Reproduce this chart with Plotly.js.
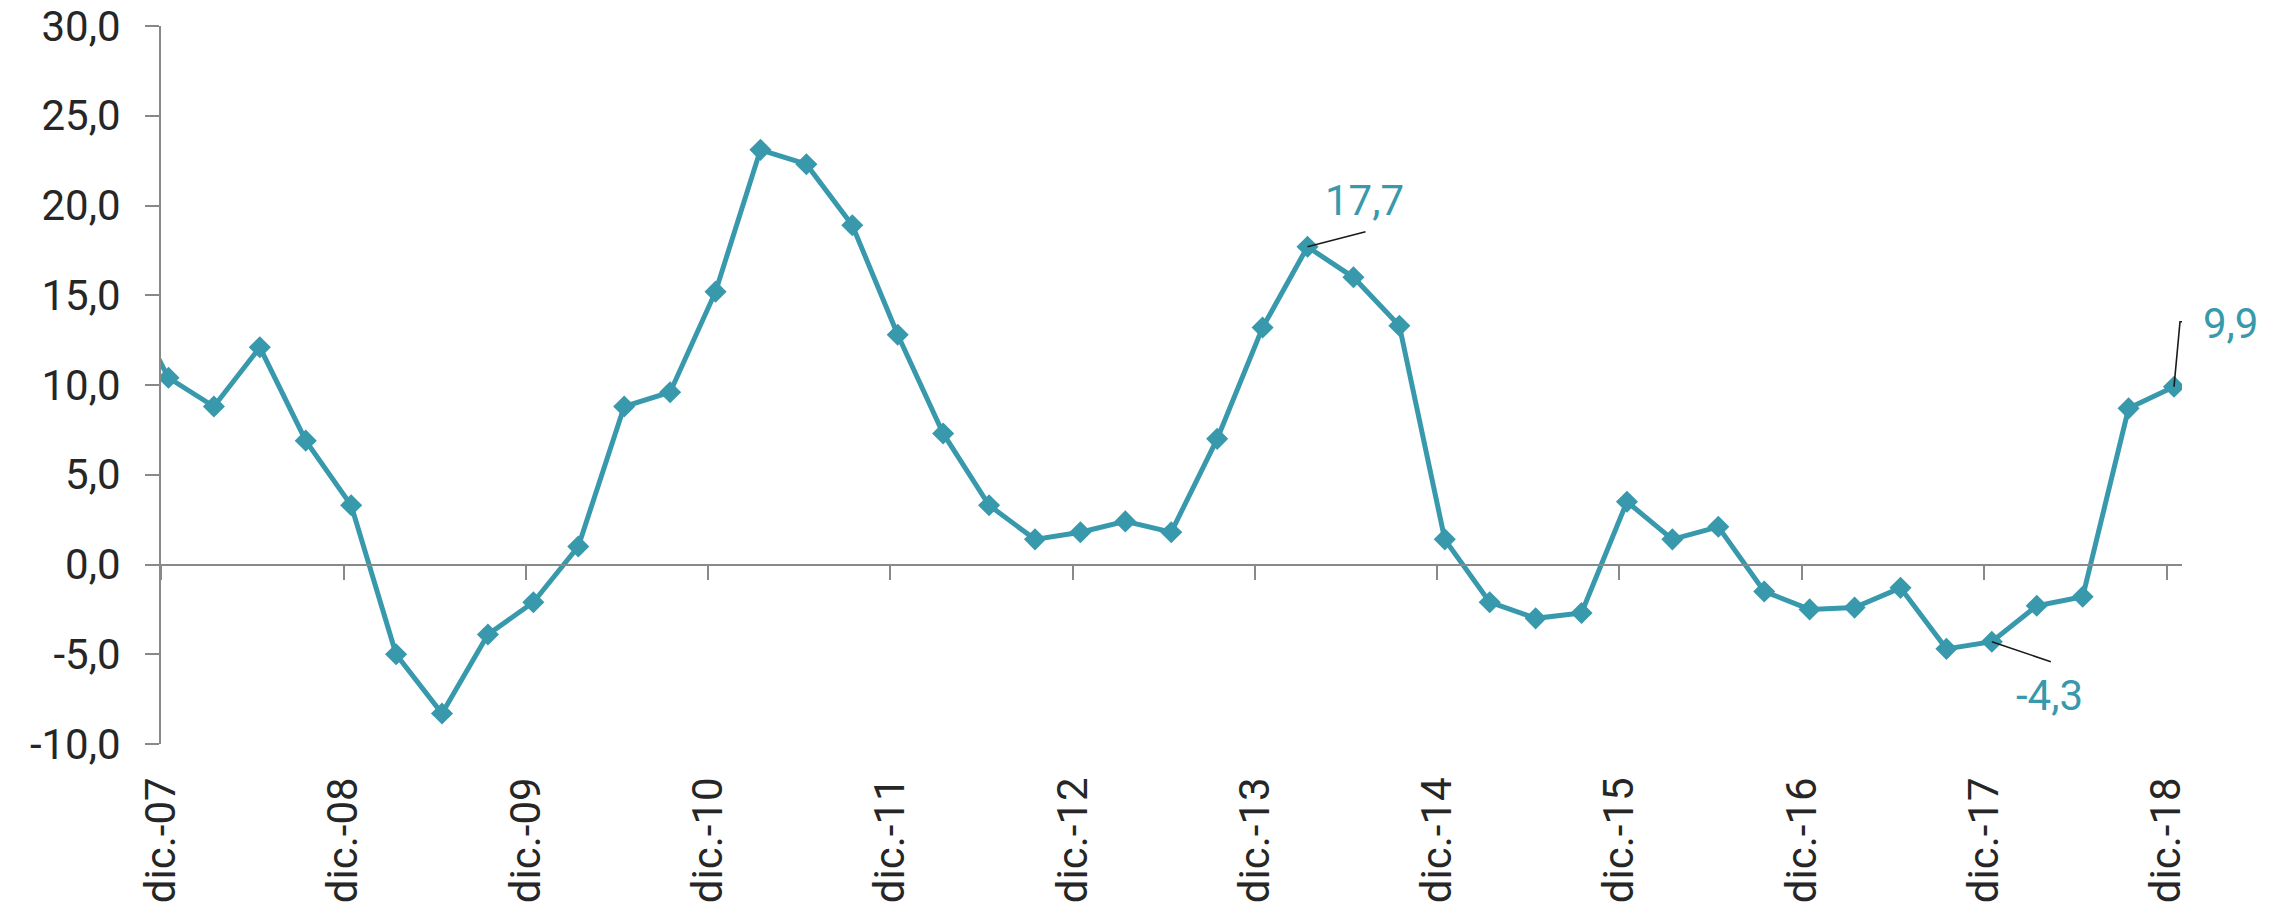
<!DOCTYPE html>
<html>
<head>
<meta charset="utf-8">
<script src="https://cdn.plot.ly/plotly-3.0.1.min.js"></script>
<style>
  html, body { margin: 0; padding: 0; background: #ffffff; }
  #chart { width: 2285px; height: 910px; }
</style>
</head>
<body>
<div id="chart"></div>
<script>
// Quarter-end months (the first one, sep-07, lies just outside the axis and is clipped)
const quarters = [
  '2007-09',
  '2007-12','2008-03','2008-06','2008-09',
  '2008-12','2009-03','2009-06','2009-09',
  '2009-12','2010-03','2010-06','2010-09',
  '2010-12','2011-03','2011-06','2011-09',
  '2011-12','2012-03','2012-06','2012-09',
  '2012-12','2013-03','2013-06','2013-09',
  '2013-12','2014-03','2014-06','2014-09',
  '2014-12','2015-03','2015-06','2015-09',
  '2015-12','2016-03','2016-06','2016-09',
  '2016-12','2017-03','2017-06','2017-09',
  '2017-12','2018-03','2018-06','2018-09',
  '2018-12'
];
const values = [
  15.3,
  10.4, 8.8, 12.1, 6.9,
  3.3, -5.0, -8.3, -3.9,
  -2.1, 1.0, 8.8, 9.6,
  15.2, 23.1, 22.3, 18.9,
  12.8, 7.3, 3.3, 1.4,
  1.8, 2.4, 1.8, 7.0,
  13.2, 17.7, 16.0, 13.3,
  1.4, -2.1, -3.0, -2.7,
  3.5, 1.4, 2.1, -1.5,
  -2.5, -2.4, -1.3, -4.7,
  -4.3, -2.3, -1.8, 8.7,
  9.9
];
const tickDates = ['2007-12-01','2008-12-01','2009-12-01','2010-12-01','2011-12-01','2012-12-01',
                   '2013-12-01','2014-12-01','2015-12-01','2016-12-01','2017-12-01','2018-12-01'];
const tickLabels = ['dic.-07','dic.-08','dic.-09','dic.-10','dic.-11','dic.-12',
                    'dic.-13','dic.-14','dic.-15','dic.-16','dic.-17','dic.-18'];
const yTickValues = [-10, -5, 0, 5, 10, 15, 20, 25, 30];
const yTickLabels = ['-10,0','-5,0','0,0','5,0','10,0','15,0','20,0','25,0','30,0'];
const labelled = ['2014-03', '2017-12', '2018-12'];
const labelText = ['17,7', '-4,3', '9,9'];

const TEAL = '#3899ad';
const AXIS = '#898989';
const FONT = 'Roboto, Liberation Sans, sans-serif';
const xRange = ['2007-12-01', '2019-01-01'];

// points are placed in the middle of their month (as with a date axis "between tick marks")
const xs = quarters.map(q => q + '-16');

const traces = [
  {
    x: xs, y: values, type: 'scatter', mode: 'lines+markers',
    line: { color: TEAL, width: 5 },
    marker: { symbol: 'diamond', size: 17, color: TEAL },
    showlegend: false, hoverinfo: 'skip', cliponaxis: true
  },
  { x: [tickDates[0]], y: [null], xaxis: 'x2', yaxis: 'y', type: 'scatter', mode: 'lines',
    showlegend: false, hoverinfo: 'skip' }
];

function ptX(q) { return q + '-16'; }
function ptY(q) { return values[quarters.indexOf(q)]; }

// label text offsets (px, right / down) and leader paths (px, y up)
const textOffsets = [[57, -46], [58, 54], [56, -63]];
const leaderPaths = ['M0,0 L58,15', 'M0,0 L59,-20', 'M0,0 L6,65 L17,65'];

const annotations = labelled.map((q, i) => ({
  x: ptX(q), y: ptY(q), xref: 'x', yref: 'y',
  text: labelText[i], showarrow: false,
  xshift: textOffsets[i][0], yshift: -textOffsets[i][1],
  font: { family: FONT, size: 42, color: TEAL },
  xanchor: 'center', yanchor: 'middle'
}));

const shapes = labelled.map((q, i) => ({
  type: 'path', xref: 'x', yref: 'y',
  xsizemode: 'pixel', ysizemode: 'pixel',
  xanchor: ptX(q), yanchor: ptY(q),
  path: leaderPaths[i],
  line: { color: '#1a1a1a', width: 1.6 }
}));

const layout = {
  width: 2285, height: 910,
  margin: { l: 161, r: 103, t: 26, b: 166 },
  paper_bgcolor: '#ffffff', plot_bgcolor: '#ffffff',
  showlegend: false,
  font: { family: FONT, color: '#262626' },
  xaxis: {
    type: 'date', range: xRange,
    tickmode: 'array', tickvals: tickDates, ticktext: tickLabels,
    tickangle: -90, ticks: '', showline: false, showgrid: false, zeroline: false,
    tickfont: { family: FONT, size: 42, color: '#262626' },
    ticklabelstandoff: 24, ticklabeloverflow: 'allow'
  },
  xaxis2: {
    type: 'date', range: xRange, overlaying: 'x', anchor: 'free', position: 0.25,
    tickmode: 'array', tickvals: tickDates, showticklabels: false,
    ticks: 'outside', ticklen: 14, tickwidth: 2, tickcolor: AXIS,
    showline: true, linecolor: AXIS, linewidth: 2, showgrid: false, zeroline: false
  },
  yaxis: {
    range: [-10, 30.0001], tickmode: 'array', tickvals: yTickValues, ticktext: yTickLabels,
    ticks: 'outside', ticklen: 14, tickwidth: 2, tickcolor: AXIS,
    showline: true, linecolor: AXIS, linewidth: 2, showgrid: false, zeroline: false,
    tickfont: { family: FONT, size: 42, color: '#262626' },
    ticklabelstandoff: 16, ticklabeloverflow: 'allow'
  },
  annotations: annotations,
  shapes: shapes
};

Plotly.newPlot('chart', traces, layout, { staticPlot: true });
</script>
</body>
</html>
